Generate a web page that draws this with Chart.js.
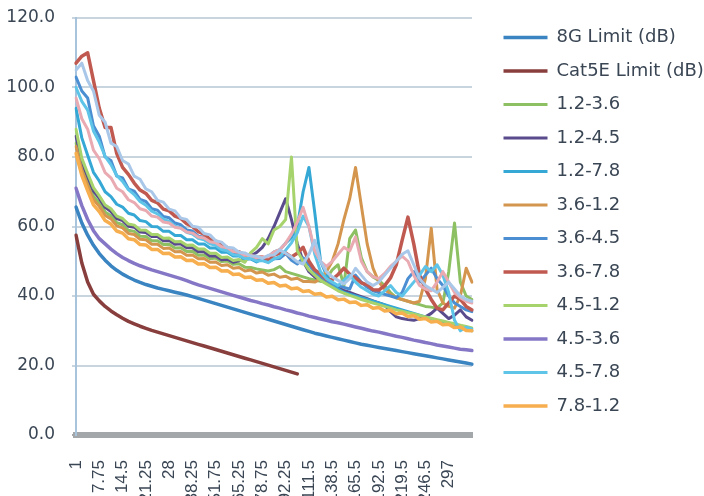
<!DOCTYPE html>
<html><head><meta charset="utf-8">
<style>html,body{margin:0;padding:0;background:#fff;overflow:hidden}#wrap{width:704px;height:496px;position:relative}</style>
<script src="https://cdn.jsdelivr.net/npm/chart.js@4.4.1/dist/chart.umd.min.js"></script>
</head><body><div id="wrap"><canvas id="c"></canvas></div>
<script>
const categories = ['1','2.75','4.5','6','7.75','9.5','11.25','12.75','14.5','16.25',
'18','19.5','21.25','23','24.75','26.25','28','29.75','31.5','35',
'38.25','41.5','45','48.5','51.75','55','58.5','62','65.25','68.5',
'72','75.5','78.75','82','85.5','89','92.25','97','102','106.5',
'111.5','118.5','125','131.5','138.5','145.5','152','158.5','165.5','172.5',
'179','185.5','192.5','199.5','206','212.5','219.5','226.5','233','239.5',
'246.5','259','271.5','284','297','310','322.5','335','348'];
const yTicks = [0, 20, 40, 60, 80, 100, 120];

const limit8G = [65.6,61.0,57.5,54.6,52.2,50.3,48.7,47.4,46.3,45.4,
44.6,43.9,43.3,42.8,42.3,41.9,41.5,41.1,40.7,40.3,
39.8,39.3,38.8,38.3,37.8,37.3,36.8,36.3,35.8,35.3,
34.8,34.3,33.8,33.3,32.8,32.3,31.8,31.3,30.8,30.3,
29.8,29.3,28.9,28.5,28.1,27.7,27.3,26.9,26.5,26.1,
25.8,25.5,25.2,24.9,24.6,24.3,24.0,23.7,23.4,23.1,
22.8,22.5,22.2,21.9,21.6,21.3,21.0,20.7,20.4];
const limitCat5E = [57.5,49.5,44.0,40.5,38.6,37.0,35.7,34.6,33.6,32.7,
32.0,31.3,30.7,30.1,29.6,29.1,28.6,28.1,27.6,27.1,
26.6,26.1,25.6,25.1,24.6,24.1,23.6,23.1,22.6,22.1,
21.6,21.1,20.6,20.1,19.6,19.1,18.6,18.1,17.6,null,
null,null,null,null,null,null,null,null,null,null,
null,null,null,null,null,null,null,null,null,null,
null,null,null,null,null,null,null,null,null];
const s12_36 = [84,76.6,72.8,68.7,66.8,64.2,63.1,61.1,60.5,58.9,
58.6,57.2,57.1,55.9,55.9,54.8,54.9,53.8,53.9,52.8,
52.9,51.7,51.8,50.7,50.9,49.9,50.1,49.1,49.3,48.3,
48.2,47.8,47.5,47.2,47.6,48.5,47.0,46.5,46.0,45.5,
45.0,44.6,44.2,45.0,47.5,49.0,43.0,56.5,59.0,51.0,
47.0,45.5,44.5,43.0,41.0,39.5,39.0,38.5,38.0,37.5,
37.0,36.8,36.5,38.0,47.0,61.0,44.0,40.0,39.0];
const s12_45 = [86,78.6,74.3,70.2,68.1,65.5,64.3,62.3,61.7,60.1,
59.8,58.4,58.3,57.1,57.1,55.9,56.0,54.9,55.0,53.9,
53.9,52.7,52.7,51.5,51.5,50.4,50.6,49.7,50.1,50.5,
51.5,52.5,54.0,56.5,60.0,64.0,68.0,62.0,55.0,50.0,
47.0,45.5,44.5,43.8,43.0,42.3,41.6,41.0,40.4,39.8,
39.2,38.6,38.0,37.4,35.5,34.0,33.5,33.2,33.0,33.5,
34.0,35.0,36.5,35.0,33.5,34.5,36.0,34.0,33.0];
const s12_78 = [94,85.5,80.5,75.6,73.1,70.0,68.6,66.4,65.6,63.8,
63.3,61.7,61.4,60.0,59.9,58.6,58.6,57.4,57.4,56.2,
56.2,55.0,55.0,53.8,53.8,52.6,52.6,51.5,51.6,50.5,
50.7,49.8,50.6,51.3,52.7,53.3,55.2,56.8,60.0,70.0,
77.0,64.0,50.0,46.0,43.5,42.0,41.0,40.5,40.0,39.5,
39.0,38.5,38.0,37.5,37.0,36.5,36.0,35.5,35.0,34.5,
34.0,33.5,33.0,32.5,32.0,31.5,31.0,30.5,30.0];
const s36_12 = [83,76.2,71.8,67.7,65.8,63.2,62.2,60.2,59.6,58.0,
57.7,56.3,56.2,54.9,54.9,53.7,53.8,52.7,52.8,51.7,
51.8,50.7,50.8,49.7,49.8,48.8,49.0,48.0,48.2,47.2,
47.5,46.6,46.9,46.0,46.3,45.4,45.7,44.8,45.1,44.2,
44.2,44.0,45.0,47.0,50.0,55.0,62.0,68.0,77.0,66.0,
55.0,48.0,44.0,42.0,40.5,39.5,39.0,38.5,38.0,38.5,
45.0,59.5,42.0,38.0,37.0,36.5,40.0,48.0,44.0];
const s36_45 = [103,99,97,89,86,80,79,74.5,74,70.8,
70.2,67.8,67.2,65.1,64.7,62.9,62.5,61.0,60.5,59.0,
58.7,57.2,56.9,55.4,55.1,53.7,53.3,52.2,52.0,51.0,
51.0,50.3,50.4,49.8,50.7,50.8,52.2,50.3,49.2,51.0,
49.0,47.0,45.5,44.5,43.5,43.0,42.5,42.0,46.0,44.0,
42.5,41.5,41.0,40.5,40.0,39.5,41.0,45.0,47.0,44.0,
46.0,48.0,45.0,43.0,40.0,38.0,37.0,36.0,35.5];
const s36_78 = [107,109,110,102,94,88.5,88.5,81,77,75,
72.5,70.5,69.5,67.5,66.8,65.0,64.5,63.0,62.3,60.8,
60.0,58.5,57.8,56.3,55.8,54.4,54.0,52.9,52.7,51.8,
51.8,51.1,51.2,50.6,51.8,52.3,52.4,51.2,52.3,54.0,
50.0,47.5,46.3,44.8,44.7,46.2,48.0,46.3,45.2,43.8,
43.2,41.8,41.7,43.0,45.2,49.0,56.0,62.7,55.0,46.0,
42.0,39.0,36.5,36.0,38.0,40.0,39.0,37.0,36.0];
const s45_12 = [88,79.6,75.3,71.2,68.8,66.2,65.1,63.0,62.3,60.7,
60.4,59.0,58.9,57.7,57.7,56.6,56.7,55.6,55.7,54.6,
54.7,53.5,53.5,52.3,52.3,51.1,51.2,50.2,50.5,49.7,
52.5,54.0,56.5,55.0,59.0,60.0,62.0,80.0,53.0,50.0,
47.5,46.0,44.5,43.5,42.5,41.5,40.8,40.2,39.6,39.0,
38.5,38.0,37.5,37.0,36.5,36.0,35.6,35.2,34.8,34.4,
34.0,33.6,33.2,32.8,32.4,32.0,31.6,31.2,30.8];
const s45_36 = [71.0,66.0,62.0,58.8,56.5,55.0,53.5,52.2,51.1,50.2,
49.4,48.7,48.1,47.5,47.0,46.5,46.0,45.5,45.0,44.4,
43.8,43.2,42.7,42.2,41.7,41.2,40.7,40.2,39.7,39.2,
38.7,38.3,37.8,37.4,36.9,36.5,36.0,35.6,35.1,34.7,
34.2,33.8,33.4,33.0,32.6,32.3,31.9,31.5,31.1,30.7,
30.3,29.9,29.6,29.2,28.8,28.4,28.1,27.7,27.3,27.0,
26.6,26.3,25.9,25.6,25.3,25.0,24.7,24.5,24.3];
const s45_78 = [100,96,93.5,87.5,84.3,80.2,77.8,74.7,73.0,70.6,
69.2,67.2,66.1,64.4,63.6,62.1,61.5,60.1,59.6,58.3,
57.8,56.6,56.2,55.0,54.6,53.4,53.0,51.9,51.7,50.8,
50.8,50.1,50.2,49.6,50.7,51.3,53.2,55.3,58.2,63.0,
60.0,52.0,47.0,45.0,44.0,43.0,44.5,46.0,44.0,42.5,
41.5,40.5,40.0,41.5,43.0,41.0,40.0,42.0,44.0,46.0,
48.5,47.0,49.0,46.0,41.0,33.0,30.0,31.0,30.5];
const s78_12 = [81,74.7,70.3,66.2,64.3,61.7,60.7,58.7,58.1,56.5,
56.2,54.8,54.7,53.4,53.4,52.2,52.3,51.2,51.3,50.2,
50.3,49.2,49.3,48.2,48.3,47.2,47.3,46.2,46.3,45.3,
45.5,44.5,44.7,43.7,43.9,42.9,43.1,42.1,42.3,41.3,
41.5,40.5,40.7,39.7,39.9,38.9,39.1,38.1,38.3,37.3,
37.5,36.5,36.7,35.7,35.9,34.9,35.1,34.1,34.3,33.3,
33.5,32.5,32.7,31.7,31.9,30.9,31.1,30.1,30.0];
const s78_36 = [97,91,88,82,79.5,75.5,74,71,70,67.7,
66.9,65.1,64.6,63.0,62.7,61.3,61.0,59.8,59.5,58.4,
58.1,57.0,56.7,55.6,55.3,54.2,53.9,52.8,52.6,51.7,
51.7,51.0,51.2,51.3,52.7,53.3,55.2,57.8,61.2,65.5,
60.0,53.0,50.0,48.5,50.0,52.0,54.0,53.0,57.0,50.0,
47.0,45.5,45.0,46.5,48.5,50.0,51.5,50.0,46.0,43.0,
42.0,41.5,44.0,47.0,44.0,41.0,39.5,38.5,38.0];
const s78_45 = [105,107,102,99,92,90,84,83,79,78,
74.5,73.6,70.8,70.0,67.5,67.0,65.0,64.5,62.4,62.0,
60.1,59.8,58.0,57.6,55.9,55.5,54.0,53.8,52.6,52.4,
51.5,51.5,50.8,51.7,51.8,53.2,52.3,51.2,49.8,49.2,
52.0,56.0,50.0,47.0,45.5,44.5,43.5,45.0,48.0,46.0,
44.0,43.0,44.0,46.0,48.0,50.0,52.0,53.0,49.0,45.0,
43.0,42.0,41.0,42.5,44.0,42.0,40.0,39.0,38.5];

const seriesNames = ['8G Limit (dB)','Cat5E Limit (dB)','1.2-3.6','1.2-4.5','1.2-7.8','3.6-1.2','3.6-4.5','3.6-7.8','4.5-1.2','4.5-3.6','4.5-7.8','7.8-1.2','7.8-3.6','7.8-4.5'];
const seriesData = [limit8G, limitCat5E, s12_36, s12_45, s12_78, s36_12, s36_45, s36_78, s45_12, s45_36, s45_78, s78_12, s78_36, s78_45];
const seriesColors = ['#3a84c1','#883e3c','#8dc063','#5a4b8c','#35a8d5','#d4964e','#4b8fd2','#c05a50','#a7d36c','#8577c6','#5ec4e8','#f6ae4e','#e9aab2','#a9c7e8'];
const seriesWidths = [3.5,3.5,3,3,3,3,3,3.5,3,3.5,3,3.5,3,3];
const legendCount = 12;

const textColor = '#3a4654';
Chart.defaults.font.family = 'DejaVu Sans';
Chart.defaults.color = textColor;

const datasets = seriesNames.map((name, k) => ({
  label: name,
  data: seriesData[k],
  borderColor: seriesColors[k],
  backgroundColor: seriesColors[k],
  borderWidth: seriesWidths[k],
  pointRadius: 0,
  tension: 0,
  fill: false,
  borderJoinStyle: 'round',
  borderCapStyle: 'round',
  order: seriesNames.length - k
}));

// Gap between plot area and legend column
const legendGap = 16;
const legendShift = {
  id: 'legendShift',
  afterLayout(chart) {
    if (chart.legend) { chart.legend.left += legendGap; chart.legend.right += legendGap; }
  }
};

new Chart(document.getElementById('c'), {
  type: 'line',
  data: { labels: categories, datasets },
  plugins: [legendShift],
  options: {
    responsive: true,
    maintainAspectRatio: false,
    animation: false,
    layout: { padding: { left: 6, right: 0, top: 13, bottom: 0 } },
    plugins: {
      tooltip: { enabled: false },
      legend: {
        position: 'right',
        align: 'start',
        maxWidth: 260,
        labels: {
          usePointStyle: true,
          pointStyle: 'line',
          pointStyleWidth: 44,
          padding: 15.5,
          color: textColor,
          font: { size: 18, family: 'DejaVu Sans' },
          filter: (item) => item.datasetIndex < legendCount,
          sort: (a, b) => a.datasetIndex - b.datasetIndex
        }
      }
    },
    scales: {
      x: {
        type: 'category',
        offset: false,
        grid: { display: false },
        border: { display: true, color: '#a4a7aa', width: 6 },
        ticks: {
          autoSkip: false,
          maxRotation: 90,
          minRotation: 90,
          padding: 17,
          color: textColor,
          font: { size: 17, family: 'Liberation Sans' },
          callback: function (v, i) { return (i % 4 === 0 && i <= 64) ? categories[i] : ''; }
        },
        afterFit: (s) => { s.height = 61; s.paddingRight = 232; }
      },
      y: {
        min: 0,
        max: 120,
        afterBuildTicks: (s) => { s.ticks = yTicks.map(v => ({ value: v })); },
        ticks: {
          padding: 17,
          color: textColor,
          font: { size: 17 },
          callback: (v) => Number(v).toFixed(1)
        },
        grid: {
          color: (ctx) => (ctx.tick && ctx.tick.value === 0) ? '#a4a7aa' : '#c9d5de',
          lineWidth: 2,
          tickLength: 4
        },
        border: { display: true, color: '#a8c4dc', width: 2 },
        afterFit: (s) => { s.width = 70; s.paddingTop = 18; }
      }
    }
  }
});
</script>
</body></html>
